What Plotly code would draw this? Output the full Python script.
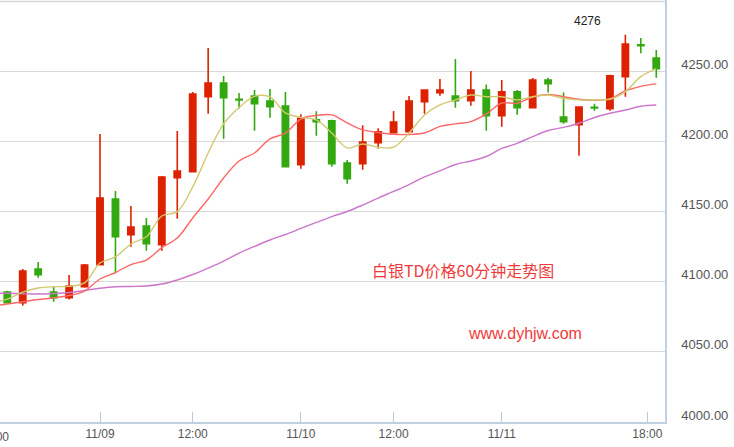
import plotly.graph_objects as go

# ---- data ----
opens = [4092.6, 4085.0, 4109.0, 4092.6, 4088.6, 4096.4, 4112.1, 4158.9, 4133.5, 4139.7,
         4126.3, 4174.1, 4178.4, 4231.8, 4241.6, 4230.0, 4232.3, 4228.7, 4225.2, 4183.4,
         4215.4, 4214.7, 4184.6, 4184.1, 4199.0, 4206.2, 4206.9, 4228.2, 4234.7, 4232.3,
         4229.0, 4236.6, 4218.3, 4235.2, 4224.0, 4243.7, 4217.3, 4211.9, 4224.3, 4223.3,
         4246.1, 4268.7, 4259.4]
highs = [4093.6, 4109.0, 4114.0, 4096.9, 4104.8, 4112.6, 4205.2, 4164.6, 4153.9, 4145.4,
         4175.3, 4207.4, 4235.2, 4266.5, 4246.6, 4234.4, 4236.6, 4237.3, 4235.2, 4219.3,
         4221.4, 4215.4, 4186.7, 4211.4, 4209.3, 4221.6, 4232.3, 4237.0, 4244.4, 4258.7,
         4250.1, 4240.4, 4243.7, 4236.6, 4245.1, 4245.3, 4234.7, 4224.9, 4226.8, 4247.5,
         4276.0, 4273.6, 4265.1]
lows = [4084.8, 4082.9, 4102.8, 4085.7, 4087.2, 4095.7, 4111.5, 4106.0, 4124.9, 4122.1,
        4122.1, 4144.9, 4178.0, 4219.7, 4201.9, 4223.3, 4207.6, 4216.8, 4181.5, 4180.5,
        4204.0, 4181.9, 4169.8, 4179.8, 4194.8, 4205.7, 4206.5, 4219.7, 4232.5, 4224.0,
        4225.4, 4207.6, 4210.4, 4219.0, 4223.6, 4234.7, 4212.6, 4189.8, 4221.8, 4221.8,
        4231.8, 4262.7, 4245.3]
closes = [4085.0, 4107.6, 4105.0, 4088.6, 4096.9, 4111.9, 4159.6, 4132.0, 4139.0, 4127.1,
          4174.6, 4178.9, 4233.7, 4241.6, 4231.1, 4229.5, 4226.8, 4224.7, 4181.9, 4216.4,
          4214.0, 4184.1, 4173.4, 4199.5, 4206.7, 4213.8, 4228.7, 4236.6, 4236.6, 4229.0,
          4236.6, 4218.3, 4235.2, 4224.0, 4243.7, 4241.1, 4214.0, 4224.5, 4223.7, 4246.6,
          4269.4, 4268.2, 4251.8]
candle_idx = list(range(len(opens)))

# moving averages, indices -1 .. 42
ma_idx = list(range(-1, len(opens)))
ma5 = [4084.8, 4087.5, 4092.6, 4095.5, 4096.4, 4096.7, 4099.1, 4113.3, 4117.6, 4126.8,
       4132.0, 4146.8, 4149.9, 4167.5, 4191.7, 4212.4, 4224.1, 4232.0, 4231.6, 4220.2,
       4217.1, 4215.2, 4205.9, 4195.3, 4198.1, 4195.8, 4195.8, 4205.9, 4218.8, 4225.9,
       4229.5, 4233.0, 4231.8, 4231.8, 4229.5, 4231.8, 4233.0, 4230.7, 4229.5, 4229.5,
       4230.0, 4235.4, 4246.1, 4251.8]
ma10 = [4082.7, 4084.1, 4085.7, 4087.3, 4088.4, 4090.1, 4093.3, 4101.9, 4106.5, 4112.2,
        4115.4, 4124.3, 4131.1, 4145.4, 4158.9, 4173.9, 4186.0, 4191.7, 4201.7, 4205.9,
        4215.9, 4218.4, 4218.8, 4213.1, 4208.1, 4206.3, 4205.0, 4204.9, 4205.9, 4210.6,
        4212.4, 4214.0, 4219.5, 4227.3, 4227.1, 4231.6, 4233.4, 4231.8, 4230.0, 4229.2,
        4230.4, 4235.9, 4239.2, 4240.9]
ma20 = [4091.9, 4091.7, 4091.4, 4091.2, 4091.6, 4092.3, 4093.7, 4095.3, 4096.4, 4096.6,
        4096.9, 4098.3, 4101.2, 4105.1, 4109.7, 4114.7, 4120.4, 4125.1, 4129.7, 4133.6,
        4137.9, 4142.2, 4146.4, 4150.0, 4154.6, 4159.6, 4164.3, 4169.2, 4174.6, 4178.9,
        4183.5, 4186.0, 4189.2, 4194.9, 4198.6, 4203.4, 4207.7, 4209.9, 4212.9, 4217.0,
        4220.0, 4222.3, 4225.0, 4225.9]

tick_pos = [6, 12, 19, 25, 32, 41.42]
tick_text = ["11/09", "12:00", "11/10", "12:00", "11/11", "18:00"]
y_ticks = [4000, 4050, 4100, 4150, 4200, 4250, 4300]
y_tick_text = ["4000.00", "4050.00", "4100.00", "4150.00", "4200.00", "4250.00", ""]
max_label = "4276"

RED = "#dd2200"
GREEN = "#33a811"

fig = go.Figure()
fig.add_trace(go.Scatter(x=ma_idx, y=ma20, mode="lines", line=dict(color="#cc77cc", width=1.4, shape="spline"),
                         hoverinfo="skip", showlegend=False))
fig.add_trace(go.Scatter(x=ma_idx, y=ma10, mode="lines", line=dict(color="#ff6666", width=1.4, shape="spline"),
                         hoverinfo="skip", showlegend=False))
fig.add_trace(go.Scatter(x=ma_idx, y=ma5, mode="lines", line=dict(color="#d2c870", width=1.4, shape="spline"),
                         hoverinfo="skip", showlegend=False))
fig.add_trace(go.Candlestick(
    x=candle_idx, open=opens, high=highs, low=lows, close=closes,
    increasing=dict(line=dict(color=RED, width=1.6), fillcolor=RED),
    decreasing=dict(line=dict(color=GREEN, width=1.6), fillcolor=GREEN),
    whiskerwidth=0, showlegend=False))

common = dict(xref="paper", yref="paper", showarrow=False, xanchor="center", yanchor="middle")
fig.add_annotation(text=max_label, x=0.883, y=0.950,
                   font=dict(family="Liberation Sans, Arial", size=12, color="#222222"), **common)
fig.add_annotation(text="白银TD价格60分钟走势图", x=0.696, y=0.361,
                   font=dict(family="Noto Sans CJK SC", size=16, color="#f03a3a"), **common)
fig.add_annotation(text="www.dyhjw.com", x=0.789, y=0.209,
                   font=dict(family="Liberation Sans, Arial", size=16, color="#f03a3a"), **common)
fig.add_annotation(text="18:00", x=-0.0085, y=-0.035,
                   font=dict(family="Liberation Sans, Arial", size=12, color="#555555"), **common)

# top frame line (grid line at the top edge)
fig.add_shape(type="line", xref="paper", yref="paper", x0=0, x1=1, y0=0.9965, y1=0.9965,
              line=dict(color="#d6d6d6", width=1.5), layer="above")

fig.update_layout(
    width=734, height=447,
    margin=dict(l=0, r=69, t=0, b=25),
    paper_bgcolor="white", plot_bgcolor="white",
    boxgap=0.42,
    xaxis=dict(range=[-0.472, 42.565], rangeslider=dict(visible=False), showgrid=False, zeroline=False,
               tickmode="array", tickvals=tick_pos, ticktext=tick_text,
               ticks="inside", ticklen=10, tickcolor="#b8c8dc", tickwidth=1,
               showline=True, linecolor="#c0cfe2", linewidth=1.5,
               tickfont=dict(family="Liberation Sans, Arial", size=12, color="#555555")),
    yaxis=dict(range=[4000, 4300.7], side="right", tickmode="array", tickvals=y_ticks, ticktext=y_tick_text,
               showgrid=True, gridcolor="#d9d9d9", gridwidth=1, zeroline=False,
               showline=True, linecolor="#c0cfe2", linewidth=1.5,
               ticklabelshift=-7, ticklabelstandoff=12,
               tickfont=dict(family="Liberation Sans, Arial", size=13, color="#555555")),
)

fig.write_html("out.html", config={"displayModeBar": False},
               post_script="document.body.style.margin='0px';")
